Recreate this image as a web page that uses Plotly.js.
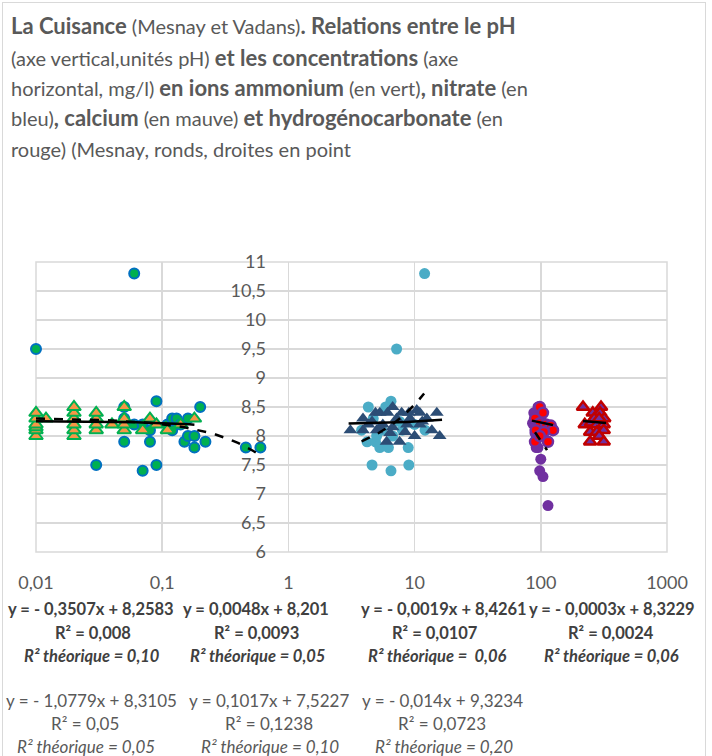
<!DOCTYPE html>
<html>
<head>
<meta charset="utf-8">
<script src="https://cdn.plot.ly/plotly-3.0.1.min.js"></script>
<style>
html,body{margin:0;padding:0;background:#fff;}
#chart{width:712px;height:756px;position:absolute;left:0;top:0;}
#frame{position:absolute;left:2px;top:2px;width:702px;height:770px;border:1px solid #d9d9d9;pointer-events:none;}
</style>
</head>
<body>
<div id="chart"></div>
<div id="frame"></div>
<script>
// ---------- data ----------
const ammoniumVadansX = [0.01,0.01,0.01,0.01,0.01,0.01,0.012,0.02,0.02,0.02,0.02,0.02,0.02,0.03,0.03,0.03,0.03,0.04,0.05,0.05,0.05,0.05,0.07,0.08,0.09,0.11,0.14,0.18];
const ammoniumVadansY = [8.0,8.1,8.15,8.2,8.3,8.4,8.3,8.0,8.1,8.2,8.3,8.4,8.5,8.1,8.2,8.3,8.4,8.2,8.1,8.2,8.3,8.5,8.1,8.3,8.2,8.1,8.2,8.3];

const ammoniumMesnayX = [0.01,0.06,0.03,0.05,0.05,0.05,0.06,0.07,0.07,0.08,0.08,0.09,0.09,0.11,0.12,0.13,0.12,0.14,0.15,0.16,0.16,0.18,0.18,0.2,0.22,0.46,0.6];
const ammoniumMesnayY = [9.5,10.8,7.5,8.5,8.3,7.9,8.2,7.4,8.2,8.1,7.9,8.6,7.5,8.2,8.3,8.3,8.1,8.2,7.9,8.3,8.0,8.0,7.8,8.5,7.9,7.8,7.8];

const nitrateMesnayX = [12,7.2,4.3,6.5,5.9,4.6,6.5,9.0,8.9,5.3,6.2,4.2,4.9,3.8,12.1,4.7,7.6,6.7,5.5,8.0,10,5.0];
const nitrateMesnayY = [10.8,9.5,8.5,8.6,8.5,7.5,7.4,7.5,7.8,7.8,7.8,7.9,7.9,8.1,8.1,8.3,8.25,8.0,8.1,8.1,8.2,8.0];

const nitrateVadansX = [3.1,3.9,3.9,4.9,5.3,6.1,6.7,7.9,10.4,15,13.7,15.8,10,6.0,7.6,4.6,5.6,6.7,8.7,11.5,5.0,6.4,8.4,11,7.2,9.2,5.3,4.3,11,9,12.5];
const nitrateVadansY = [8.1,8.3,8.1,8.4,8.4,8.4,8.5,8.4,8.45,8.4,8.1,8.0,8.0,7.9,7.9,8.25,8.2,8.15,8.2,8.25,8.1,8.05,8.07,8.2,8.3,8.3,8.15,8.2,8.4,8.4,8.3];

const calciumMesnayX = [95,88,86,90,90,95,100,98,104,114,114,125,110,104,92,100];
const calciumMesnayY = [8.5,8.4,8.22,8.05,7.9,7.8,7.6,7.4,7.3,6.8,7.9,8.1,8.15,8.4,7.8,8.3];

const calciumVadansX = [98,104,90,98,110,120,125,91,106,90,114,98];
const calciumVadansY = [8.5,8.4,8.3,8.22,8.2,8.18,8.1,8.1,8.07,7.9,7.9,8.0];

const hco3VadansX = [216,300,258,295,318,223,250,278,315,246,278,315,290,246,315,265,290];
const hco3VadansY = [8.5,8.5,8.4,8.4,8.3,8.2,8.23,8.2,8.2,8.07,8.07,8.1,8.0,7.9,7.9,8.3,8.3];

// trend lines: y = a*x + b over [x0, x1]
const trendSlopes     = [-0.3507, 0.0048, -0.0019, -0.0003, -1.0779, 0.1017, -0.014];
const trendIntercepts = [ 8.2583, 8.201,   8.4261,  8.3229,  8.3105, 7.5227, 9.3234];
const trendStart      = [0.01, 3.0, 85, 216, 0.01, 3.8, 90];
const trendEnd        = [0.18, 16.5, 125, 329, 0.6, 11.9, 112];
const trendDashed     = [false,false,false,false,true,true,true];

const yTickVals  = [6,6.5,7,7.5,8,8.5,9,9.5,10,10.5,11];
const yTickText  = ['6','6,5','7','7,5','8','8,5','9','9,5','10','10,5','11'];
const xTickVals  = [0.01,0.1,1,10,100,1000];
const xTickText  = ['0,01','0,1','1','10','100','1000'];

const titleLines = [
  '<b>La Cuisance</b> (Mesnay et Vadans)<b>. Relations entre le pH</b>',
  '(axe vertical,unités pH) <b>et les concentrations</b> (axe',
  'horizontal, mg/l) <b>en ions ammonium</b> (en vert)<b>, nitrate</b> (en',
  'bleu)<b>, calcium</b> (en mauve) <b>et hydrogénocarbonate</b> (en',
  'rouge) (Mesnay, ronds, droites en point'
];
const eqVadans = [
  ['y = - 0,3507x + 8,2583','R² = 0,008','R² théorique = 0,10'],
  ['y = 0,0048x + 8,201','R² = 0,0093','R² théorique = 0,05'],
  ['y = - 0,0019x + 8,4261','R² = 0,0107','R² théorique =  0,06'],
  ['y = - 0,0003x + 8,3229','R² = 0,0024','R² théorique = 0,06']
];
const eqMesnay = [
  ['y = - 1,0779x + 8,3105','R² = 0,05','R² théorique = 0,05'],
  ['y = 0,1017x + 7,5227','R² = 0,1238','R² théorique = 0,10'],
  ['y = - 0,014x + 9,3234','R² = 0,0723','R² théorique = 0,20']
];

// ---------- geometry ----------
const W = 712, H = 756;
const M = {l:36, r:45, t:262, b:204};
const PW = W - M.l - M.r, PH = H - M.t - M.b;
const px = x => (x - M.l) / PW;
const py = y => (H - M.b - y) / PH;
const FONT = 'Lato, "Open Sans", sans-serif';

// ---------- traces ----------
const traces = [];
function sc(x, y, marker) {
  traces.push({x, y, type:'scatter', mode:'markers', marker, hoverinfo:'skip', showlegend:false, cliponaxis:false});
}
sc(ammoniumMesnayX, ammoniumMesnayY, {symbol:'circle', size:10, color:'#00b050', line:{color:'#0070c0', width:2}});
sc(ammoniumVadansX, ammoniumVadansY, {symbol:'triangle-up', size:12, color:'#f79646', line:{color:'#00b050', width:2}});
sc(nitrateMesnayX, nitrateMesnayY, {symbol:'circle', size:11, color:'#4bacc6', line:{width:0}});
sc(nitrateVadansX, nitrateVadansY, {symbol:'triangle-up', size:12, color:'#2c4d75', line:{width:0}});
sc(calciumMesnayX, calciumMesnayY, {symbol:'circle', size:11, color:'#7030a0', line:{width:0}});
sc(calciumVadansX, calciumVadansY, {symbol:'circle', size:10, color:'#ff0000', line:{color:'#7030a0', width:2.5}});
sc(hco3VadansX, hco3VadansY, {symbol:'triangle-up', size:11, color:'#7030a0', line:{color:'#c00000', width:2.5}});

for (let i = 0; i < trendSlopes.length; i++) {
  const n = 30, lx0 = Math.log10(trendStart[i]), lx1 = Math.log10(trendEnd[i]);
  const xs = [], ys = [];
  for (let k = 0; k <= n; k++) {
    const xv = Math.pow(10, lx0 + (lx1 - lx0) * k / n);
    xs.push(xv); ys.push(trendSlopes[i] * xv + trendIntercepts[i]);
  }
  traces.push({x:xs, y:ys, type:'scatter', mode:'lines', hoverinfo:'skip', showlegend:false,
    line:{color:'#000', width:2.5, dash: trendDashed[i] ? 'dash' : 'solid'}});
}

// ---------- annotations ----------
const ann = [];
const titleY = [26, 57, 88, 118, 149];
const bigBold = s => s.replace(/<b>/g, '<b><span style="font-size:22px">').replace(/<\/b>/g, '</span></b>');
titleLines.forEach((t, i) => ann.push({xref:'paper', yref:'paper', x:px(9), y:py(titleY[i]), xanchor:'left', yanchor:'middle',
  text:bigBold(t), showarrow:false, font:{family:FONT, size:20, color:'#595959'}}));

const vadCx = [[91,93,92],[256,256,257],[444,435,437],[612,611,611]];
const mesCx = [[91,85,86],[269,269,270],[442,442,444]];
const rowY1 = [609, 633, 656];
const rowY2 = [700, 723, 746];
eqVadans.forEach((col, c) => col.forEach((t, r) => ann.push({xref:'paper', yref:'paper', x:px(vadCx[c][r]), y:py(rowY1[r]),
  xanchor:'center', yanchor:'middle', showarrow:false,
  text: r === 2 ? '<b><i>' + t + '</i></b>' : '<b>' + t + '</b>',
  font:{family:FONT, size:16.5, color:'#404040'}})));
eqMesnay.forEach((col, c) => col.forEach((t, r) => ann.push({xref:'paper', yref:'paper', x:px(mesCx[c][r]), y:py(rowY2[r]),
  xanchor:'center', yanchor:'middle', showarrow:false,
  text: r === 2 ? '<i>' + t + '</i>' : t,
  font:{family:FONT, size:17, color:'#595959'}})));

const layout = {
  width: W, height: H,
  margin: M,
  paper_bgcolor: 'rgba(0,0,0,0)', plot_bgcolor: '#fff',
  font: {family: FONT, color:'#595959'},
  showlegend: false,
  xaxis: {type:'log', range:[-2, 3], tickvals:xTickVals, ticktext:xTickText,
    showgrid:true, gridcolor:'#d9d9d9', gridwidth:1.5, zeroline:false, showline:false,
    ticks:'', ticklabelstandoff:18, tickfont:{family:FONT, size:18, color:'#595959'}, fixedrange:true},
  yaxis: {range:[6, 11], tickvals:yTickVals, ticktext:yTickText, anchor:'free', position:px(288) ,
    showgrid:true, gridcolor:'#d9d9d9', gridwidth:1.5, zeroline:false, showline:false,
    ticks:'', ticklabelstandoff:22, tickfont:{family:FONT, size:18, color:'#595959'}, fixedrange:true},
  shapes: [{type:'rect', xref:'paper', yref:'paper', x0:0, x1:1, y0:0, y1:1, line:{color:'#d9d9d9', width:1.5}, layer:'below'}],
  annotations: ann
};

Plotly.newPlot('chart', traces, layout, {displayModeBar:false, staticPlot:true});
</script>
</body>
</html>
